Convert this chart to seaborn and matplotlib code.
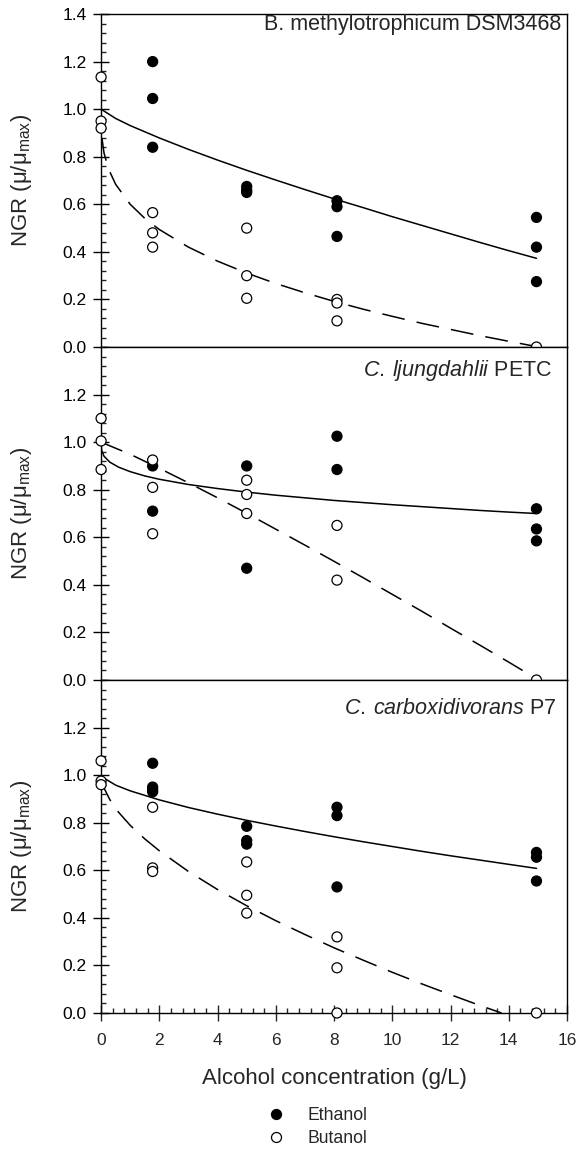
import numpy as np
import pandas as pd
import seaborn as sns
import matplotlib.pyplot as plt
from matplotlib.lines import Line2D
from matplotlib.ticker import MultipleLocator, FormatStrFormatter

# measured points, one set per strain
strains = ["B. methylotrophicum DSM3468",
           r"$\mathit{C.\:ljungdahlii}$ PETC",
           r"$\mathit{C.\:carboxidivorans}$ P7"]

eth_x1 = [1.77, 1.77, 1.77, 5, 5, 5, 8.1, 8.1, 8.1, 14.95, 14.95, 14.95]
eth_y1 = [1.20, 1.045, 0.84, 0.675, 0.66, 0.65, 0.615, 0.59, 0.465, 0.545, 0.42, 0.275]
but_x1 = [0, 0, 0, 1.77, 1.77, 1.77, 5, 5, 5, 8.1, 8.1, 8.1, 14.95]
but_y1 = [1.135, 0.95, 0.92, 0.565, 0.48, 0.42, 0.50, 0.30, 0.205, 0.20, 0.185, 0.11, 0.0]

eth_x2 = [1.77, 1.77, 5, 5, 8.1, 8.1, 14.95, 14.95, 14.95]
eth_y2 = [0.90, 0.71, 0.90, 0.47, 1.025, 0.885, 0.72, 0.635, 0.585]
but_x2 = [0, 0, 0, 1.77, 1.77, 1.77, 5, 5, 5, 8.1, 8.1, 14.95]
but_y2 = [1.10, 1.005, 0.885, 0.925, 0.81, 0.615, 0.84, 0.78, 0.70, 0.65, 0.42, 0.0]

eth_x3 = [1.77, 1.77, 1.77, 1.77, 5, 5, 5, 8.1, 8.1, 8.1, 14.95, 14.95, 14.95]
eth_y3 = [1.05, 0.95, 0.94, 0.93, 0.785, 0.725, 0.71, 0.865, 0.83, 0.53, 0.675, 0.655, 0.555]
but_x3 = [0, 0, 0, 1.77, 1.77, 1.77, 5, 5, 5, 8.1, 8.1, 8.1, 14.95]
but_y3 = [1.06, 0.975, 0.96, 0.865, 0.61, 0.595, 0.635, 0.495, 0.42, 0.32, 0.19, 0.0, 0.0]

# fitted curves
fit_eth_x1 = [0, 0.5, 1, 2, 3, 4, 5, 6, 7, 8, 9, 10, 11, 12, 13, 14, 14.95]
fit_eth_y1 = [1.0, 0.961, 0.931, 0.879, 0.831, 0.786, 0.743, 0.702, 0.662, 0.623, 0.586,
              0.548, 0.512, 0.476, 0.440, 0.405, 0.373]
fit_but_x1 = [0.03, 0.1, 0.25, 0.5, 1, 1.5, 2, 3, 4, 5, 6, 7, 8, 9, 10, 11, 12, 13, 14, 14.95]
fit_but_y1 = [0.878, 0.816, 0.750, 0.684, 0.600, 0.541, 0.494, 0.420, 0.361, 0.311, 0.267,
              0.228, 0.192, 0.159, 0.129, 0.100, 0.074, 0.048, 0.024, 0.002]

fit_eth_x2 = [0, 0.02, 0.1, 0.3, 0.6, 1, 1.5, 2, 3, 4, 5, 6, 7, 8, 9, 10, 11, 12, 13, 14, 14.95]
fit_eth_y2 = [1.0, 0.965, 0.941, 0.916, 0.895, 0.876, 0.858, 0.844, 0.822, 0.805, 0.790,
              0.777, 0.766, 0.755, 0.746, 0.737, 0.729, 0.721, 0.713, 0.706, 0.700]
fit_but_x2 = [0, 1, 2, 3, 4, 5, 6, 7, 8, 9, 10, 11, 12, 13, 14, 14.95]
fit_but_y2 = [1.0, 0.949, 0.890, 0.829, 0.766, 0.701, 0.634, 0.567, 0.499, 0.430, 0.360,
              0.290, 0.218, 0.147, 0.075, 0.005]

fit_eth_x3 = [0, 0.5, 1, 2, 3, 4, 5, 6, 7, 8, 9, 10, 11, 12, 13, 14, 14.95]
fit_eth_y3 = [0.995, 0.958, 0.934, 0.896, 0.864, 0.836, 0.810, 0.786, 0.763, 0.741, 0.720,
              0.700, 0.680, 0.661, 0.643, 0.625, 0.608]
fit_but_x3 = [0.02, 0.1, 0.3, 0.6, 1, 1.5, 2, 3, 4, 5, 6, 7, 8, 9, 10, 11, 12, 13, 13.75]
fit_but_y3 = [0.979, 0.946, 0.897, 0.844, 0.789, 0.732, 0.682, 0.595, 0.519, 0.451, 0.388,
              0.330, 0.274, 0.222, 0.171, 0.123, 0.077, 0.032, 0.0]

points = [(eth_x1, eth_y1, but_x1, but_y1), (eth_x2, eth_y2, but_x2, but_y2),
          (eth_x3, eth_y3, but_x3, but_y3)]
fits = [(fit_eth_x1, fit_eth_y1, fit_but_x1, fit_but_y1),
        (fit_eth_x2, fit_eth_y2, fit_but_x2, fit_but_y2),
        (fit_eth_x3, fit_eth_y3, fit_but_x3, fit_but_y3)]

sns.set_style("ticks")
plt.rcParams['font.family'] = ['Liberation Sans', 'DejaVu Sans']
plt.rcParams['mathtext.fontset'] = 'custom'
plt.rcParams['mathtext.rm'] = 'Liberation Sans'
plt.rcParams['mathtext.it'] = 'Liberation Sans:italic'

fig, axes = plt.subplots(3, 1, figsize=(5.81, 11.51), dpi=100)
fig.subplots_adjust(left=0.174, right=0.976, top=0.9878, bottom=0.1199, hspace=0)

label_pos = [(0.987, 0.97), (0.968, 0.931), (0.979, 0.913)]

for i, ax in enumerate(axes):
    ex, ey, bx, by = points[i]
    pts = pd.DataFrame({
        "conc": ex + bx,
        "ngr": ey + by,
        "alcohol": ["Ethanol"] * len(ex) + ["Butanol"] * len(bx),
    })
    fex, fey, fbx, fby = fits[i]
    sns.lineplot(x=fex, y=fey, color="black", lw=1.1, sort=False, estimator=None, ax=ax)
    sns.lineplot(x=fbx, y=fby, color="black", lw=1.1, sort=False, estimator=None,
                 linestyle=(0, (15, 8)), ax=ax)
    sns.scatterplot(data=pts, x="conc", y="ngr", hue="alcohol",
                    palette={"Ethanol": "black", "Butanol": "white"},
                    edgecolor="black", linewidth=0.9, s=52, legend=False,
                    clip_on=False, zorder=3, ax=ax)

    ax.set_xlim(0, 16)
    ax.set_ylim(0, 1.4)
    ax.set_yticks(np.arange(0, 1.41, 0.2) if i == 0 else np.arange(0, 1.21, 0.2))
    ax.yaxis.set_minor_locator(MultipleLocator(0.04))
    ax.yaxis.set_major_formatter(FormatStrFormatter('%.1f'))
    ax.tick_params(axis='y', which='major', direction='inout', length=11, width=1,
                   pad=5, labelsize=12.5, colors='black')
    ax.tick_params(axis='y', which='minor', direction='in', length=3.5, width=1)
    ax.set_xticks(np.arange(0, 16.1, 2))
    ax.xaxis.set_minor_locator(MultipleLocator(0.4))
    if i < 2:
        ax.tick_params(axis='x', which='both', length=0, labelbottom=False)
        ax.set_xlabel("")
    else:
        ax.tick_params(axis='x', which='major', direction='inout', length=11, width=1,
                       pad=9, labelsize=12.5)
        ax.tick_params(axis='x', which='minor', direction='in', length=3.5, width=1)
        ax.set_xlabel("Alcohol concentration (g/L)", fontsize=16)
        ax.xaxis.set_label_coords(0.501, -0.166)

    for sp in ax.spines.values():
        sp.set_linewidth(1.0)
        sp.set_color("black")

    ax.set_ylabel("NGR (μ/μ$_{\\mathrm{max}}$)", fontsize=16)
    ax.yaxis.set_label_coords(-0.144, 0.5)
    lx, ly = label_pos[i]
    ax.text(lx, ly, strains[i], transform=ax.transAxes, ha='right', va='center',
            fontsize=15.5)

handles = [Line2D([], [], marker='o', ls='', mfc='black', mec='black', ms=7.2, mew=0.9,
                  label='Ethanol'),
           Line2D([], [], marker='o', ls='', mfc='white', mec='black', ms=7.2, mew=0.9,
                  label='Butanol')]
fig.legend(handles=handles, loc='center', bbox_to_anchor=(0.546, 0.0209), frameon=False,
           fontsize=12.7, handlelength=1.0, handletextpad=1.3, labelspacing=0.35,
           borderpad=0)

fig.savefig("out.png", dpi=100)
